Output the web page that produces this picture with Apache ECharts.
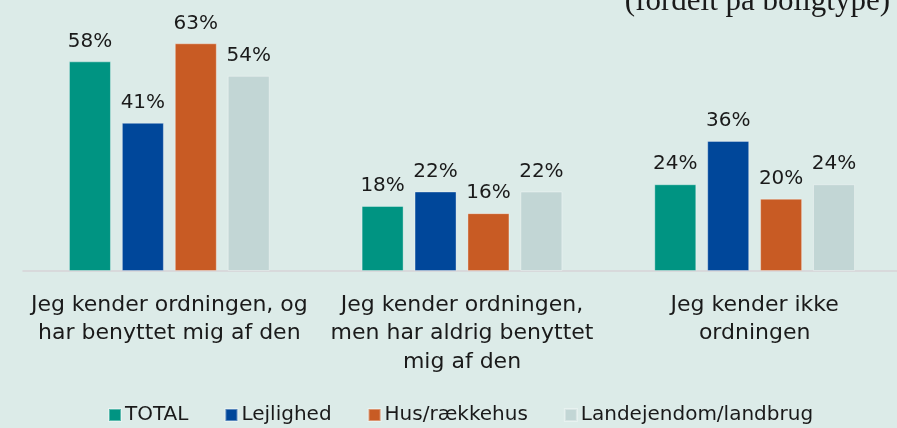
<!DOCTYPE html>
<html lang="da">
<head>
<meta charset="UTF-8">
<title>ordningen</title>
<script src="https://cdn.jsdelivr.net/npm/echarts@6/dist/echarts.min.js"></script>
<style>
  html, body {margin: 0; padding: 0; background: #dcebe8;}
  #main {width: 897px; height: 428px;}
</style>
</head>
<body>
<div id="main"></div>
<script type="text/javascript">
    // kategorier og data
    var categories = [
        'Jeg kender ordningen, og\nhar benyttet mig af den',
        'Jeg kender ordningen,\nmen har aldrig benyttet\nmig af den',
        'Jeg kender ikke\nordningen'
    ];
    var seriesNames = ['TOTAL', 'Lejlighed', 'Hus/rækkehus', 'Landejendom/landbrug'];
    var total = [58, 18, 24];
    var lejlighed = [41, 22, 36];
    var hus = [63, 16, 20];
    var landbrug = [54, 22, 24];
    var colors = ['#009482', '#00479a', '#c85b24', '#c2d6d5'];

    var font = 'DejaVu Sans';
    var allData = [total, lejlighed, hus, landbrug];

    var series = [];
    for (var i = 0; i < seriesNames.length; i++) {
        series.push({
            name: seriesNames[i],
            type: 'bar',
            data: allData[i],
            barWidth: 42,
            barGap: '26%',
            itemStyle: {color: colors[i], borderColor: 'rgba(255,255,255,0.35)', borderWidth: 1},
            label: {
                show: true,
                position: 'top',
                distance: 10,
                formatter: '{c}%',
                color: '#1a1a1a',
                fontFamily: font,
                fontSize: 20
            }
        });
    }

    var myChart = echarts.init(document.getElementById('main'));
    myChart.setOption({
        backgroundColor: '#dcebe8',
        animation: false,
        color: colors,
        title: {
            text: '(fordelt på boligtype)',
            right: 2,
            top: -19,
            textStyle: {fontFamily: 'Liberation Serif', fontSize: 31, fontWeight: 'normal', color: '#1a1a1a'}
        },
        grid: {left: 23, right: -4, top: 18, bottom: 157, outerBoundsMode: 'none', containLabel: false},
        legend: {
            bottom: -2,
            left: 103,
            itemWidth: 12,
            itemHeight: 12,
            itemGap: 36,
            icon: 'rect',
            textStyle: {fontFamily: font, fontSize: 20, color: '#1a1a1a', padding: [0, 0, 0, -1]},
            data: seriesNames
        },
        xAxis: {
            type: 'category',
            data: categories,
            axisLine: {lineStyle: {color: '#d6d3d6', width: 1.5}},
            axisTick: {show: false},
            axisLabel: {
                interval: 0,
                margin: 20,
                color: '#1a1a1a',
                fontFamily: font,
                fontSize: 22,
                lineHeight: 28.5
            }
        },
        yAxis: {
            type: 'value',
            min: 0,
            max: 70,
            show: false,
            splitLine: {show: false}
        },
        series: series
    });
</script>
</body>
</html>
